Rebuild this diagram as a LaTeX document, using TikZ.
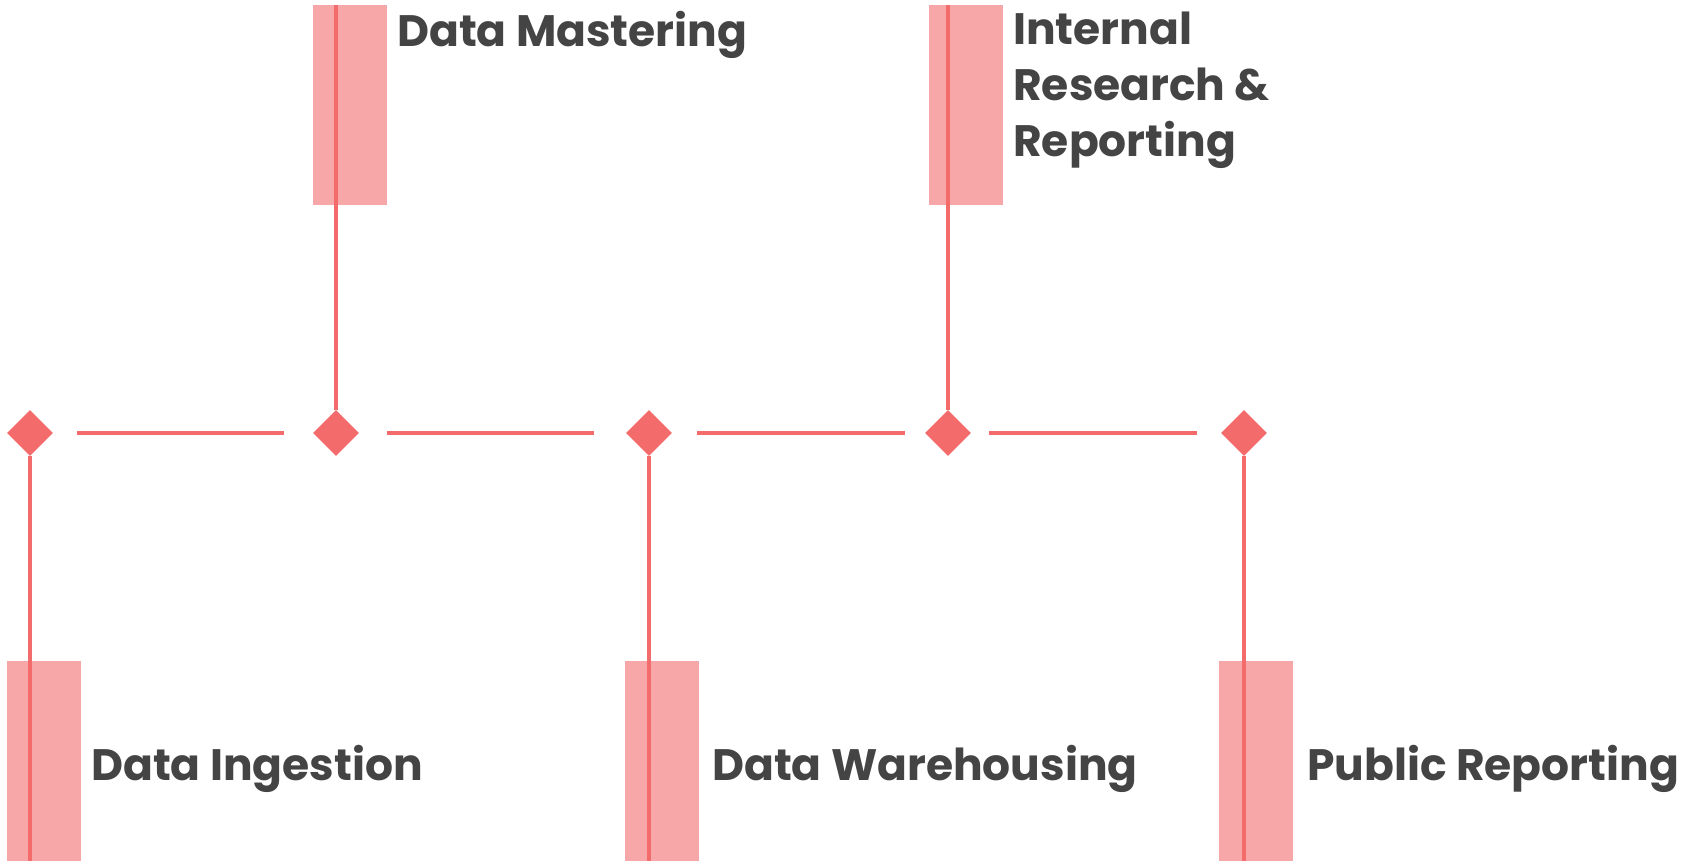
\documentclass[tikz,border=0pt]{standalone}
\usepackage{fontspec}
\setmainfont{Poppins}
\usepackage{tikz}
\usetikzlibrary{shapes,arrows,calc}
\definecolor{coral}{RGB}{243,107,107}
\definecolor{blush}{RGB}{247,167,168}
\definecolor{ink}{RGB}{68,68,68}
\tikzstyle{line} = [draw=coral, line width=4pt]
\tikzstyle{stage} = [diamond, fill=coral, inner sep=0pt, minimum width=46pt, minimum height=46pt]
\tikzstyle{bar} = [rectangle, fill=blush, inner sep=0pt, minimum width=74pt, minimum height=200pt]
\tikzstyle{label} = [text=ink, inner sep=0pt, font=\bfseries\fontsize{44}{56}\selectfont, align=left]

\begin{document}
\begin{tikzpicture}[x=1pt, y=-1pt]
        \useasboundingbox (0,0) rectangle (1691,865);
        % bars behind the stems
        \node[bar] (ingestbar) at (44,761) {};
        \node[bar] (masterbar) at (350,105) {};
        \node[bar] (housebar) at (662,761) {};
        \node[bar] (researchbar) at (966,105) {};
        \node[bar] (publicbar) at (1256,761) {};
        % stages on the timeline
        \node[stage] (ingest) at (30,433) {};
        \node[stage] (master) at (336,433) {};
        \node[stage] (house) at (649,433) {};
        \node[stage] (research) at (948,433) {};
        \node[stage] (public) at (1244,433) {};
        \coordinate (ingestend) at (30,861);
        \coordinate (masterend) at (336,5);
        \coordinate (houseend) at (649,861);
        \coordinate (researchend) at (948,5);
        \coordinate (publicend) at (1244,861);
        \path[line, shorten <=24pt, shorten >=29pt] (ingest) -- (master);
        \path[line, shorten <=28pt, shorten >=32pt] (master) -- (house);
        \path[line, shorten <=25pt, shorten >=20pt] (house) -- (research);
        \path[line, shorten <=18pt, shorten >=24pt] (research) -- (public);
        \path[line] (ingest) -- (ingestend);
        \path[line] (master) -- (masterend);
        \path[line] (house) -- (houseend);
        \path[line] (research) -- (researchend);
        \path[line] (public) -- (publicend);
        % labels
        \node[label, anchor=base west] (masterlabel) at (397,46) {Data Mastering};
        \node[label, anchor=north west] (researchlabel) at (1013,12) {Internal\\Research \&\\Reporting};
        \node[label, anchor=base west] (ingestlabel) at (91,780) {Data Ingestion};
        \node[label, anchor=base west] (houselabel) at (712,780) {Data Warehousing};
        \node[label, anchor=base west] (publiclabel) at (1307,780) {Public Reporting};
    \end{tikzpicture}
\end{document}
